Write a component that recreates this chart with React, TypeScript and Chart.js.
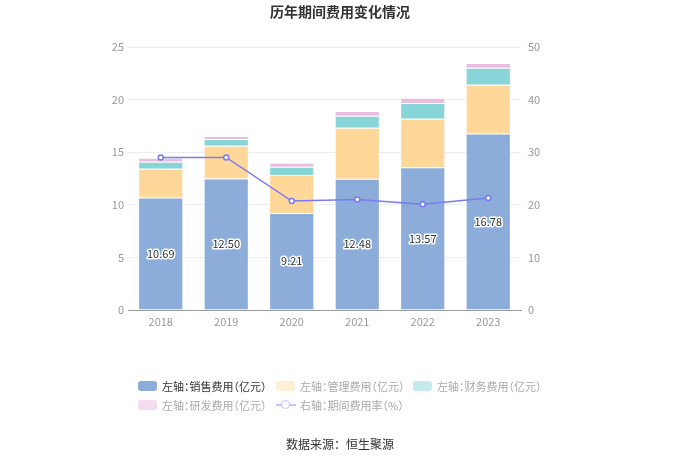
import React, { useEffect, useRef } from 'react';
import { Chart, registerables } from 'chart.js';

Chart.register(...registerables);

const years = ['2018', '2019', '2020', '2021', '2022', '2023'];
const salesCost = [10.69, 12.5, 9.21, 12.48, 13.57, 16.78];
const adminCost = [2.74, 3.12, 3.62, 4.85, 4.61, 4.64];
const financeCost = [0.67, 0.63, 0.79, 1.14, 1.5, 1.61];
const rdCost = [0.38, 0.29, 0.38, 0.45, 0.5, 0.45];
const costRate = [29.0, 29.0, 20.7, 21.0, 20.1, 21.3];

const legendItems = [
  { label: '左轴：销售费用（亿元）', color: '#8cacd9', text: '#333', kind: 'box' },
  { label: '左轴：管理费用（亿元）', color: '#ffefd4', text: '#aaa', kind: 'box' },
  { label: '左轴：财务费用（亿元）', color: '#c4eaec', text: '#aaa', kind: 'box' },
  { label: '左轴：研发费用（亿元）', color: '#f4dcef', text: '#aaa', kind: 'box' },
  { label: '右轴：期间费用率（%）', color: '#c2c2fa', text: '#aaa', kind: 'line' },
];

const FONT = '"Noto Sans CJK SC", "Noto Sans", sans-serif';

const labelPlugin = {
  id: 'salesLabels',
  afterDatasetsDraw(chart: any) {
    const meta = chart.getDatasetMeta(0);
    const ctx = chart.ctx;
    ctx.save();
    ctx.font = `11px ${FONT}`;
    ctx.textAlign = 'center';
    ctx.textBaseline = 'middle';
    ctx.lineJoin = 'round';
    meta.data.forEach((bar: any, i: number) => {
      const y = (bar.y + bar.base) / 2;
      const txt = salesCost[i].toFixed(2);
      ctx.lineWidth = 3;
      ctx.strokeStyle = '#fff';
      ctx.strokeText(txt, bar.x, y);
      ctx.fillStyle = '#333';
      ctx.fillText(txt, bar.x, y);
    });
    ctx.restore();
  },
};

const CostChart: React.FC = () => {
  const canvasRef = useRef<HTMLCanvasElement>(null);

  useEffect(() => {
    if (!canvasRef.current) return;
    const border = 'rgba(255,255,255,0.6)';
    const chart = new Chart(canvasRef.current, {
      type: 'bar',
      data: {
        labels: years,
        datasets: [
          { label: '销售费用', data: salesCost, backgroundColor: '#8cacd9', borderColor: border, borderWidth: 1, yAxisID: 'y', order: 1 },
          { label: '管理费用', data: adminCost, backgroundColor: '#ffd899', borderColor: border, borderWidth: 1, yAxisID: 'y', order: 1 },
          { label: '财务费用', data: financeCost, backgroundColor: '#88d5d8', borderColor: border, borderWidth: 1, yAxisID: 'y', order: 1 },
          { label: '研发费用', data: rdCost, backgroundColor: '#e9bde0', borderColor: border, borderWidth: 1, yAxisID: 'y', order: 1 },
          {
            type: 'line',
            label: '期间费用率',
            data: costRate,
            yAxisID: 'y1',
            borderColor: '#7a7af2',
            borderWidth: 1.5,
            pointBackgroundColor: '#fff',
            pointBorderColor: '#7a7af2',
            pointBorderWidth: 1.5,
            pointRadius: 2.5,
            tension: 0,
            order: 0,
          } as any,
        ],
      },
      options: {
        animation: false,
        responsive: false,
        maintainAspectRatio: false,
        layout: { padding: { top: 47, left: 10, right: 10, bottom: 120 } },
        datasets: { bar: { categoryPercentage: 0.69, barPercentage: 1 } },
        scales: {
          x: {
            stacked: true,
            grid: { display: false, drawTicks: false },
            border: { color: '#999' },
            ticks: { color: '#999', font: { size: 11, family: FONT }, padding: 5 },
            afterFit: (s: any) => { s.height = 30; },
          },
          y: {
            stacked: true,
            min: 0,
            max: 25,
            ticks: { stepSize: 5, color: '#999', font: { size: 11, family: FONT }, padding: 4 },
            grid: { color: '#ececf4', drawTicks: false },
            border: { display: false },
            afterFit: (s: any) => { s.width = 118; },
          },
          y1: {
            position: 'right',
            min: 0,
            max: 50,
            ticks: { stepSize: 10, color: '#999', font: { size: 11, family: FONT }, padding: 7 },
            grid: { display: false, drawTicks: false },
            border: { display: false },
            afterFit: (s: any) => { s.width = 149; },
          },
        },
        plugins: {
          legend: { display: false },
          tooltip: { enabled: false },
          title: { display: false },
        },
      },
      plugins: [labelPlugin],
    });
    return () => chart.destroy();
  }, []);

  const legendPos = [
    { left: 138, top: 380 },
    { left: 276, top: 380 },
    { left: 413, top: 380 },
    { left: 138, top: 399 },
    { left: 276, top: 399 },
  ];

  return (
    <div style={{ position: 'absolute', left: 0, top: 0, width: 680, height: 460, background: '#fff', fontFamily: FONT }}>
      <canvas ref={canvasRef} width={680} height={460} style={{ position: 'absolute', left: 0, top: 0 }} />
      <div style={{ position: 'absolute', left: 0, top: 1, width: 680, textAlign: 'center', fontSize: 14, fontWeight: 'bold', color: '#333' }}>
        历年期间费用变化情况
      </div>
      {legendItems.map((it, i) => (
        <div
          key={it.label}
          style={{ position: 'absolute', left: legendPos[i].left, top: legendPos[i].top, display: 'flex', alignItems: 'center', fontSize: 11, color: it.text, whiteSpace: 'nowrap', height: 12, fontFeatureSettings: '"halt"' }}
        >
          {it.kind === 'box' ? (
            <span style={{ display: 'inline-block', width: 19, height: 10, borderRadius: 3, background: it.color, marginRight: 5 }} />
          ) : (
            <span style={{ position: 'relative', display: 'inline-block', width: 20, height: 10, marginRight: 4 }}>
              <span style={{ position: 'absolute', left: 0, top: 4, width: 20, height: 2, background: it.color }} />
              <span style={{ position: 'absolute', left: 5, top: 0, width: 7, height: 7, borderRadius: '50%', border: `1.5px solid ${it.color}`, background: '#fff' }} />
            </span>
          )}
          {it.label}
        </div>
      ))}
      <div style={{ position: 'absolute', left: 0, top: 435, width: 680, textAlign: 'center', fontSize: 12, color: '#333' }}>
        数据来源：恒生聚源
      </div>
    </div>
  );
};

export default function App() {
  return <CostChart />;
}
